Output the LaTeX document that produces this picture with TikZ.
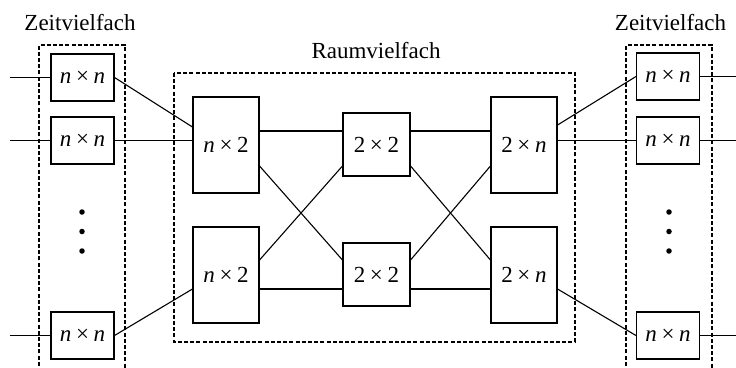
\documentclass[tikz,border=0pt]{standalone}
\usepackage{fontspec}
\setmainfont{Liberation Serif}
\newcommand{\tms}{\hspace{0.2em}×\hspace{0.2em}}
\begin{document}
\begin{tikzpicture}[x=1pt,y=-1pt,
  line width=1.1pt,
  every node/.style={font=\fontsize{23}{27}\selectfont, inner sep=0pt},
  dbox/.style={draw, line width=1.3pt, dash pattern=on 4pt off 2.2pt},
  tsw/.style={draw, minimum width=63pt, minimum height=47pt},
  bigsw/.style={draw, minimum width=66pt, minimum height=96pt},
  midsw/.style={draw, minimum width=67pt, minimum height=63pt},
  lab/.style={anchor=base},
  dot/.style={circle, fill, minimum size=5.5pt}]
\useasboundingbox (0,0) rectangle (736,367);
% dashed frames
\begin{scope}
\clip (0,0) rectangle (736,367);
\draw[dbox] (39,372) -- (39,45) -- (125,45) -- (125,372);
\draw[dbox] (626,372) -- (626,45) -- (712,45) -- (712,372);
\end{scope}
\draw[dbox] (174,73) rectangle (575,342);
% labels
\node[lab] (zl) at (80,30) {Zeitvielfach};
\node[lab] (zr) at (670.5,30) {Zeitvielfach};
\node[lab] (rv) at (376,58) {Raumvielfach};
% left time switches
\node[tsw] (l1) at (82.5,77.5) {\textit{n}\tms\textit{n}};
\node[tsw] (l2) at (82.5,140.5) {\textit{n}\tms\textit{n}};
\node[tsw] (l3) at (82.5,335.5) {\textit{n}\tms\textit{n}};
% right time switches
\node[tsw] (r1) at (668,76.5) {\textit{n}\tms\textit{n}};
\node[tsw] (r2) at (668,140.5) {\textit{n}\tms\textit{n}};
\node[tsw] (r3) at (668,335.5) {\textit{n}\tms\textit{n}};
% dots
\node[dot] (ld1) at (82,212) {};
\node[dot] (ld2) at (82,231.5) {};
\node[dot] (ld3) at (82,251) {};
\node[dot] (rd1) at (669,212) {};
\node[dot] (rd2) at (669,231.5) {};
\node[dot] (rd3) at (669,251) {};
% space switches
\node[bigsw] (a1) at (226,145) {\textit{n}\tms2};
\node[bigsw] (a2) at (226,275) {\textit{n}\tms2};
\node[midsw] (b1) at (376.5,144.5) {2\tms2};
\node[midsw] (b2) at (376.5,274.5) {2\tms2};
\node[bigsw] (c1) at (524,145) {2\tms\textit{n}};
\node[bigsw] (c2) at (524,275) {2\tms\textit{n}};
% free ends
\coordinate (i1) at (10,77.5);
\coordinate (i2) at (10,140.5);
\coordinate (i3) at (10,335.5);
\coordinate (o1) at (736,76.5);
\coordinate (o2) at (736,140.5);
\coordinate (o3) at (736,335.5);
% connectors
\draw (i1) -- (l1.west);
\draw (i2) -- (l2.west);
\draw (i3) -- (l3.west);
\draw (r1.east) -- (o1);
\draw (r2.east) -- (o2);
\draw (r3.east) -- (o3);
\draw (l1.east) -- ([yshift=18pt]a1.west);
\draw (l2.east) -- (a1.west |- l2.east);
\draw (l3.east) -- ([yshift=-14pt]a2.west);
% stage 1 -> 2
\draw ([yshift=14pt]a1.east) -- ([yshift=13.5pt]b1.west);
\draw ([yshift=-21pt]a1.east) -- ([yshift=14.5pt]b2.west);
\draw ([yshift=15pt]a2.east) -- ([yshift=-21.5pt]b1.west);
\draw ([yshift=-14pt]a2.east) -- ([yshift=-14.5pt]b2.west);
% stage 2 -> 3
\draw ([yshift=13.5pt]b1.east) -- ([yshift=14pt]c1.west);
\draw ([yshift=-21.5pt]b1.east) -- ([yshift=15pt]c2.west);
\draw ([yshift=14.5pt]b2.east) -- ([yshift=-21pt]c1.west);
\draw ([yshift=-14.5pt]b2.east) -- ([yshift=-14pt]c2.west);
% stage 3 -> right time switches
\draw ([yshift=20pt]c1.east) -- (r1.west);
\draw (c1.east |- r2.west) -- (r2.west);
\draw ([yshift=-14pt]c2.east) -- (r3.west);
\end{tikzpicture}
\end{document}
